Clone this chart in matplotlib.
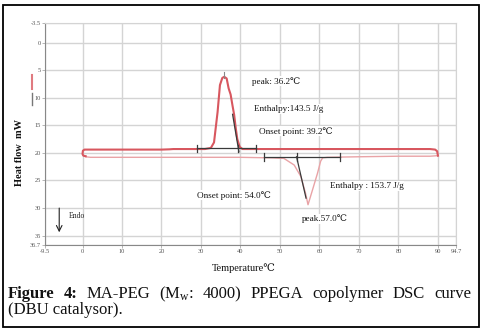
import matplotlib
matplotlib.use("Agg")
import matplotlib.pyplot as plt
from matplotlib.lines import Line2D
from matplotlib.patches import Rectangle

plt.rcParams['font.family'] = ['Liberation Serif', 'DejaVu Serif']
plt.rcParams['mathtext.fontset'] = 'custom'
plt.rcParams['mathtext.rm'] = 'Liberation Serif'
plt.rcParams['mathtext.it'] = 'Liberation Serif:italic'

# ---------------- data ----------------
# upper (exothermic crystallisation) curve
upper_T = [0.8, 0.2, 0.0, 0.1, 0.5, 5, 10, 15, 20, 22, 23, 28, 31, 32.5, 33.3, 34.2,
           34.8, 35.4, 35.9, 36.5, 37.0, 37.5, 38.0, 38.4, 38.8, 39.2, 39.8, 40.5,
           42, 50, 60, 70, 80, 88, 89.3, 89.8, 90.0]
upper_H = [20.6, 20.5, 20.2, 19.6, 19.4, 19.4, 19.4, 19.4, 19.4, 19.35, 19.3, 19.3,
           19.3, 19.1, 18.1, 12.6, 7.7, 6.4, 6.2, 6.5, 8.3, 9.4, 11.5, 13.1, 15.5,
           17.5, 18.9, 19.3, 19.3, 19.3, 19.3, 19.3, 19.3, 19.3, 19.4, 19.7, 20.5]
# lower (endothermic melting) curve
lower_T = [90.0, 88, 80, 70, 62, 60.8, 60.3, 59.5, 58.2, 57.1, 56.5, 55.3, 53.6,
           51.0, 48, 40, 30, 20, 10, 2, 0.8]
lower_H = [20.5, 20.6, 20.6, 20.7, 20.8, 20.9, 21.5, 23.7, 26.8, 29.4, 27.4, 24.3,
           22.2, 21.0, 20.9, 20.8, 20.8, 20.8, 20.8, 20.8, 20.7]

# analysis construction lines
up_base_T = [28.9, 43.9]
up_base_H = 19.2
up_ticks_T = [28.9, 39.4, 43.9]
up_tan_T = [38.0, 39.6]
up_tan_H = [13.0, 19.8]
up_peak_T = 35.9
up_peak_H = [5.3, 6.5]
lo_base_T = [46.0, 65.2]
lo_base_H = 20.7
lo_ticks_T = [46.0, 54.2, 65.2]
lo_tan_T = [54.2, 56.6]
lo_tan_H = [20.7, 28.2]

x_ticks = [-9.5, 0, 10, 20, 30, 40, 50, 60, 70, 80, 90, 94.7]
x_labels = ["-9.5", "0", "10", "20", "30", "40", "50", "60", "70", "80", "90", "94.7"]
y_ticks = [-3.5, 0, 5, 10, 15, 20, 25, 30, 35, 36.7]
y_labels = ["-3.5", "0", "5", "10", "15", "20", "25", "30", "35", "36.7"]

annotations = [
    ("peak: 36.2℃", 43.0, 7.0),
    ("Enthalpy:143.5 J/g", 43.3, 12.0),
    ("Onset point: 39.2℃", 44.7, 16.1),
    ("Onset point: 54.0℃", 29.1, 27.7),
    ("Enthalpy : 153.7 J/g", 62.6, 26.0),
    ("peak.57.0℃", 55.5, 32.0),
]

# ---------------- figure ----------------
W, H = 485, 333
fig = plt.figure(figsize=(W / 100, H / 100), dpi=100)
fig.patches.append(Rectangle((3 / W, 1 - 327 / H), 476 / W, 322 / H,
                             transform=fig.transFigure, fill=False,
                             edgecolor='black', linewidth=1.3))

ax = fig.add_axes([45 / W, 1 - 245 / H, 411.5 / W, (245 - 23.3) / H])
ax.set_xlim(-9.5, 94.7)
ax.set_ylim(36.7, -3.5)
ax.set_xticks(x_ticks)
ax.set_xticklabels(x_labels)
ax.set_yticks(y_ticks)
ax.set_yticklabels(y_labels)
ax.tick_params(labelsize=4.6, colors='#555555', length=2, width=0.6,
               color='#aaaaaa', pad=1.0)
ax.grid(True, color='#d4d4d4', linewidth=1.0)
ax.set_axisbelow(True)
for s in ['top', 'right']:
    ax.spines[s].set_color('#d4d4d4')
for s in ['left', 'bottom']:
    ax.spines[s].set_color('#888888')
    ax.spines[s].set_linewidth(0.8)

dark = '#3a3a3a'
ax.plot(lower_T, lower_H, color='#e9a3a6', linewidth=1.0, zorder=3)
ax.plot(upper_T, upper_H, color='#d8575f', linewidth=1.5, zorder=4)

ax.plot(up_base_T, [up_base_H] * 2, color=dark, linewidth=0.9, zorder=5)
for t in up_ticks_T:
    ax.plot([t, t], [up_base_H - 0.7, up_base_H + 0.7], color=dark, linewidth=0.9, zorder=5)
ax.plot(up_tan_T, up_tan_H, color=dark, linewidth=0.9, zorder=5)
ax.plot([up_peak_T, up_peak_T], up_peak_H, color='#888888', linewidth=0.8, zorder=5)
ax.plot(lo_base_T, [lo_base_H] * 2, color=dark, linewidth=0.9, zorder=5)
for t in lo_ticks_T:
    ax.plot([t, t], [lo_base_H - 0.7, lo_base_H + 0.7], color=dark, linewidth=0.9, zorder=5)
ax.plot(lo_tan_T, lo_tan_H, color=dark, linewidth=0.9, zorder=5)

for txt, x, y in annotations:
    ax.text(x, y, txt, fontsize=6.6, ha='left', va='center', color='#111111',
            bbox=dict(facecolor='white', edgecolor='none', pad=0.5), zorder=6)

ax.annotate('', xy=(-5.9, 34.9), xytext=(-5.9, 29.5),
            arrowprops=dict(arrowstyle='->', color='#222222', linewidth=0.8))
ax.text(-3.6, 31.4, 'Endo', fontsize=5.5, ha='left', va='center', color='#222222')

# legend swatches at left
fig.add_artist(Line2D([31.5 / W, 31.5 / W], [1 - 75 / H, 1 - 89 / H],
                      color='#e07a80', linewidth=1.5, transform=fig.transFigure))
fig.add_artist(Line2D([31.5 / W, 31.5 / W], [1 - 93 / H, 1 - 105 / H],
                      color='#777777', linewidth=1.0, transform=fig.transFigure))

fig.text(20 / W, 1 - 153 / H, 'Heat flow  mW', rotation=90, fontsize=7.5,
         ha='center', va='center', fontweight='bold', color='#111111')
fig.text(244 / W, 1 - 268 / H, 'Temperature℃', fontsize=7.5,
         ha='center', va='center', color='#111111')

# ---------------- caption (justified first line) ----------------
renderer = fig.canvas.get_renderer()
cap_size = 12
words = [("Figure", 'bold'), ("4:", 'bold'), ("MA-PEG", 'normal'),
         ("(M$_\\mathrm{w}$:", 'normal'), ("4000)", 'normal'), ("PPEGA", 'normal'),
         ("copolymer", 'normal'), ("DSC", 'normal'), ("curve", 'normal')]
x_left, x_right = 8.0, 471.0
y1 = 1 - 298 / H
objs = []
total = 0.0
for w, wt in words:
    t = fig.text(0, y1, w, fontsize=cap_size, fontweight=wt, va='baseline',
                 ha='left', color='#111111')
    bb = t.get_window_extent(renderer=renderer)
    objs.append((t, bb.width))
    total += bb.width
gap = (x_right - x_left - total) / (len(words) - 1)
xpos = x_left
for t, wdt in objs:
    t.set_x(xpos / W)
    xpos += wdt + gap
fig.text(x_left / W, 1 - 314 / H, '(DBU catalysor).', fontsize=cap_size,
         va='baseline', ha='left', color='#111111')

fig.savefig('out.png', dpi=100)
